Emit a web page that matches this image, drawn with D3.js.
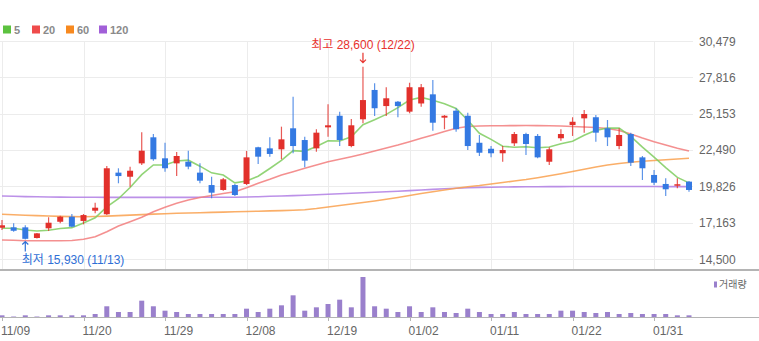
<!DOCTYPE html>
<html>
<head>
<meta charset="utf-8">
<script src="https://cdn.jsdelivr.net/npm/d3@7"></script>
<style>
  html, body { margin: 0; padding: 0; background: #fff; }
  svg { display: block; font-family: "Liberation Sans", Arial, "Noto Sans CJK KR", sans-serif; }
</style>
</head>
<body>
<svg id="chart" width="759" height="341"></svg>
<script>
// Trading days shown on the chart
const dates = ["11/09","11/10","11/13","11/14","11/15","11/16","11/17","11/20","11/21","11/22",
  "11/23","11/24","11/27","11/28","11/29","11/30","12/01","12/04","12/05","12/06",
  "12/07","12/08","12/11","12/12","12/13","12/14","12/15","12/18","12/19","12/20",
  "12/21","12/22","12/26","12/27","12/28","01/02","01/03","01/04","01/05","01/08",
  "01/09","01/10","01/11","01/12","01/15","01/16","01/17","01/18","01/19","01/22",
  "01/23","01/24","01/25","01/26","01/29","01/30","01/31","02/01","02/02","02/05"];

// Daily OHLC prices
const open = [16790,16820,16820,16040,16750,17230,17600,17290,18040,17780,
  20830,20530,21510,23420,21880,21510,21630,20830,19920,19560,
  19920,20000,22690,22610,22540,24080,23220,22610,24150,25000,
  22780,24740,26890,25710,26030,25300,25900,26570,24860,25370,
  25000,23020,22580,22250,22980,23660,23520,21630,23350,24320,
  24810,24890,24080,22780,23660,21950,20660,20000,19900,20170];
const high = [17360,17120,16970,16400,17560,17670,17800,17800,18630,21320,
  21150,21270,23790,23660,23020,22340,22440,21510,20530,20440,
  20000,22420,22730,23420,24200,26400,23460,24010,25840,25300,
  24760,28600,27380,27090,26080,27420,27330,27620,25050,25550,
  25220,23590,22780,22780,23810,23760,23660,22690,24010,24890,
  25420,25050,24690,24080,23760,22050,21020,20420,20420,20220];
const low = [16630,16500,15930,16000,16550,17120,16820,17040,17850,17720,
  20050,19800,21390,21710,20900,20580,21070,20050,18950,19500,
  19120,19920,21460,22000,21810,22250,21220,22370,23460,22780,
  22690,24450,24980,24980,24890,25180,25660,23900,24010,23830,
  22490,22050,21950,21630,22780,22120,21880,21390,23170,23520,
  23760,23100,22780,22540,21320,20290,19920,19120,19680,19430];
const close = [16970,16570,15980,16380,17160,17600,16870,17720,18260,21150,
  20580,20970,22440,21810,21150,22050,21270,20240,19360,20340,
  19190,21950,22000,22200,23270,22780,21710,23760,24300,23220,
  24300,26150,25550,26280,25710,27090,27090,24490,25000,24010,
  22780,22290,22250,22490,23660,22930,21950,22540,23660,24560,
  25130,23760,23420,23590,21560,21150,20090,19610,19980,19560];

// Closes of the four sessions before the first day (for the 5-day average)
const priorClose = [16570,16610,16750,16850];

// Longer moving averages
const ma20 = [15892,15870,15841,15834,15834,15834,15856,15944,16134,16501,
  16919,17234,17557,17967,18290,18583,18824,19007,19154,19301,
  19432,19726,20048,20341,20656,20898,21148,21389,21631,21807,
  21998,22196,22416,22636,22856,23098,23347,23589,23845,24080,
  24212,24249,24262,24271,24278,24280,24276,24268,24249,24212,
  24175,24139,24065,23919,23662,23369,23098,22856,22614,22416];
const ma60 = [17776,17740,17711,17682,17652,17623,17608,17600,17615,17644,
  17682,17718,17755,17791,17821,17850,17872,17894,17916,17938,
  17960,17982,18004,18026,18048,18077,18113,18201,18311,18421,
  18531,18641,18751,18876,19007,19154,19301,19432,19557,19682,
  19799,19887,19997,20107,20217,20327,20459,20605,20752,20913,
  21074,21243,21389,21499,21587,21661,21719,21778,21829,21881];
const ma120 = [19117,19095,19073,19059,19044,19037,19030,19025,19022,19020,
  19018,19018,19016,19016,19018,19020,19020,19022,19025,19027,
  19029,19044,19066,19095,19117,19147,19176,19205,19242,19279,
  19315,19352,19389,19432,19469,19513,19557,19601,19645,19689,
  19726,19748,19762,19777,19784,19792,19799,19803,19806,19810,
  19812,19814,19814,19814,19814,19812,19810,19808,19806,19805];

// Daily traded volume (shares)
const volume = [42000,12000,42000,12000,42000,42000,42000,42000,75000,268000,
  125000,125000,408000,268000,158000,125000,75000,75000,75000,75000,
  75000,208000,125000,208000,292000,542000,158000,242000,325000,433000,
  242000,1000000,268000,208000,125000,268000,125000,242000,125000,100000,
  208000,125000,75000,75000,125000,75000,75000,75000,158000,158000,
  125000,100000,125000,75000,100000,75000,75000,75000,42000,42000];

// Price axis ticks and date-axis tick positions
const priceTicks = [30479,27816,25153,22490,19826,17163,14500];
const dateTickIdx = [0,7,14,21,28,35,42,49,56];

const legendItems = [
  {label: "5", color: "#5cc23f"},
  {label: "20", color: "#ef4b4b"},
  {label: "60", color: "#f7891f"},
  {label: "120", color: "#a15fd8"}
];

const UP = "#e2302b", DOWN = "#3479e2";

const svg = d3.select("#chart");
const n = dates.length;

const x = d3.scaleLinear().domain([0, n - 1]).range([2, 689]);
const y = d3.scaleLinear().domain([14500, 30479]).range([259, 41]);
const yVol = d3.scaleLinear().domain([0, d3.max(volume)]).range([317, 277]);

const plotRight = 693;

// 5-day average from closes
const allClose = priorClose.concat(close);
const ma5 = close.map((_, i) => d3.mean(allClose.slice(i, i + 5)));

// ----- grid -----
const grid = svg.append("g");
grid.selectAll("line.h").data(priceTicks).join("line")
  .attr("x1", 0).attr("x2", plotRight)
  .attr("y1", d => Math.round(y(d)) + 0.5).attr("y2", d => Math.round(y(d)) + 0.5)
  .attr("stroke", "#ececec").attr("stroke-width", 1);
grid.selectAll("line.v").data(dateTickIdx).join("line")
  .attr("x1", d => Math.round(x(d)) + 0.5).attr("x2", d => Math.round(x(d)) + 0.5)
  .attr("y1", 41).attr("y2", 269)
  .attr("stroke", "#ececec").attr("stroke-width", 1);

// price labels on the right
svg.append("g").selectAll("text").data(priceTicks).join("text")
  .attr("x", 699).attr("y", d => y(d) + 4.5)
  .attr("font-size", 12).attr("fill", "#666")
  .text(d => d3.format(",")(d));

// pane separator
svg.append("line").attr("x1", 0).attr("x2", 759).attr("y1", 270).attr("y2", 270)
  .attr("stroke", "#b4b4b4").attr("stroke-width", 2);

// ----- moving averages -----
const line = d3.line().x((d, i) => x(i)).y(d => y(d));
const maSeries = [
  {data: ma120, color: "#b07ee4"},
  {data: ma60, color: "#f9a04e"},
  {data: ma20, color: "#f27c7c"},
  {data: ma5, color: "#7fcc5f"}
];
svg.append("g").selectAll("path").data(maSeries).join("path")
  .attr("d", d => line(d.data))
  .attr("fill", "none").attr("stroke", d => d.color)
  .attr("stroke-width", 1.6).attr("stroke-opacity", 0.85);

// ----- candles -----
const candles = d3.range(n).map(i => ({i, o: open[i], h: high[i], l: low[i], c: close[i]}));
const cg = svg.append("g").selectAll("g").data(candles).join("g");
cg.append("line")
  .attr("x1", d => x(d.i)).attr("x2", d => x(d.i))
  .attr("y1", d => y(d.h)).attr("y2", d => y(d.l))
  .attr("stroke", d => d.c >= d.o ? UP : DOWN).attr("stroke-width", 1.2)
  .attr("stroke-opacity", 0.8);
cg.append("rect")
  .attr("x", d => x(d.i) - 3).attr("width", 6)
  .attr("y", d => y(Math.max(d.o, d.c)))
  .attr("height", d => Math.max(1.5, Math.abs(y(d.o) - y(d.c))))
  .attr("fill", d => d.c >= d.o ? UP : DOWN);

// ----- high / low markers -----
const hiIdx = d3.maxIndex(high), loIdx = d3.minIndex(low);
const fmt = d3.format(",");
const hiX = x(hiIdx), hiY = y(high[hiIdx]);
svg.append("path")
  .attr("d", `M${hiX},${hiY - 14}V${hiY - 4}M${hiX - 3},${hiY - 7}L${hiX},${hiY - 4}L${hiX + 3},${hiY - 7}`)
  .attr("fill", "none").attr("stroke", "#e8322d").attr("stroke-width", 1.2);
svg.append("text")
  .attr("x", hiX).attr("y", hiY - 17.5).attr("text-anchor", "middle")
  .attr("font-size", 12).attr("fill", "#e8322d")
  .text(`최고 ${fmt(high[hiIdx])} (${dates[hiIdx]})`);

const loX = x(loIdx), loY = y(low[loIdx]);
svg.append("path")
  .attr("d", `M${loX},${loY + 2}V${loY + 12}M${loX - 3},${loY + 5}L${loX},${loY + 2}L${loX + 3},${loY + 5}`)
  .attr("fill", "none").attr("stroke", "#2f6fd6").attr("stroke-width", 1.2);
svg.append("text")
  .attr("x", loX - 3.5).attr("y", loY + 25).attr("text-anchor", "start")
  .attr("font-size", 12).attr("fill", "#2f6fd6")
  .text(`최저 ${fmt(low[loIdx])} (${dates[loIdx]})`);

// ----- legend -----
const lg = svg.append("g");
const legendX = [3, 32, 66, 99];
legendItems.forEach((d, k) => {
  lg.append("rect").attr("x", legendX[k]).attr("y", 25.5).attr("width", 8).attr("height", 8).attr("fill", d.color);
  lg.append("text").attr("x", legendX[k] + 11).attr("y", 33.5)
    .attr("font-size", 11).attr("font-weight", "bold").attr("fill", "#8a8a8a").text(d.label);
});

// ----- volume -----
svg.append("g").selectAll("rect").data(volume).join("rect")
  .attr("x", (d, i) => x(i) - 2.5).attr("width", 5)
  .attr("y", d => yVol(d)).attr("height", d => 317 - yVol(d))
  .attr("fill", "#9a80cc");

svg.append("rect").attr("x", 714).attr("y", 281.5).attr("width", 3).attr("height", 6).attr("fill", "#9a80cc");
svg.append("text").attr("x", 719).attr("y", 288).attr("font-size", 10).attr("fill", "#666").text("거래량");

// date axis
const xAxis = svg.append("g");
xAxis.append("line").attr("x1", 0).attr("x2", 759).attr("y1", 317.5).attr("y2", 317.5)
  .attr("stroke", "#b4b4b4").attr("stroke-width", 1);
xAxis.selectAll("line.t").data(dateTickIdx).join("line")
  .attr("x1", d => Math.round(x(d)) + 0.5).attr("x2", d => Math.round(x(d)) + 0.5)
  .attr("y1", 317).attr("y2", 321)
  .attr("stroke", "#b4b4b4");
xAxis.selectAll("text").data(dateTickIdx).join("text")
  .attr("x", d => x(d) - 1).attr("y", 335)
  .attr("font-size", 12).attr("fill", "#666")
  .text(d => dates[d]);
</script>
</body>
</html>
